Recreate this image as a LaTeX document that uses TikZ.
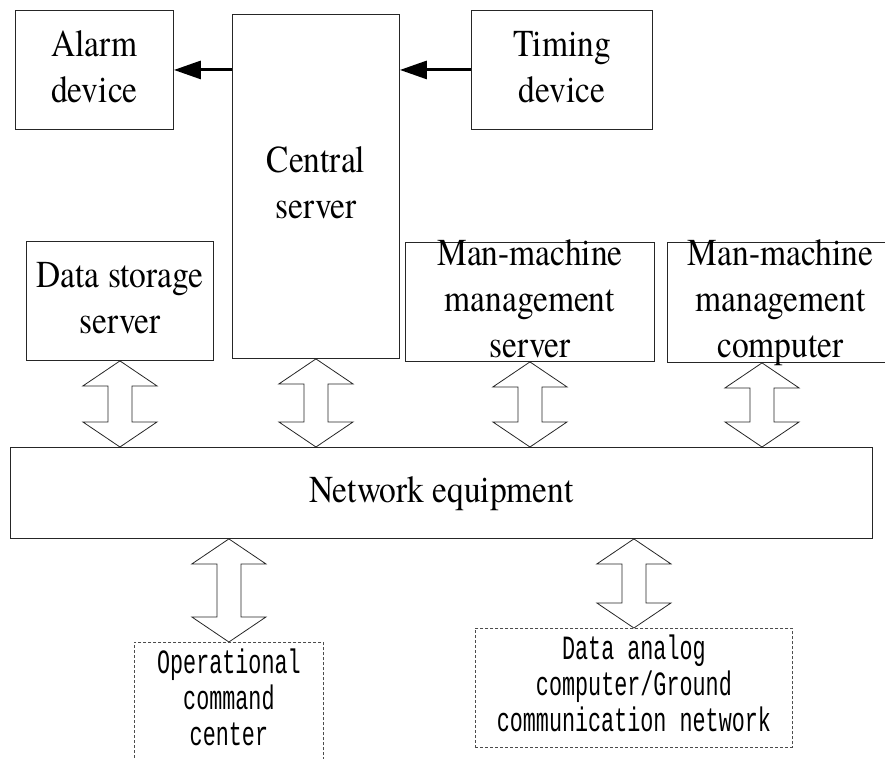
\documentclass[tikz,border=0pt]{standalone}
\usepackage{fontspec}
\newfontfamily\boxfont{TeX Gyre Termes}
\newfontfamily\codefont{Liberation Mono}
\usetikzlibrary{arrows.meta,calc}

% centred lines, squeezed horizontally
\newcommand\narrowlines[2]{\scalebox{#1}[1]{\begin{tabular}{@{}c@{}}#2\end{tabular}}}
\newcommand\serifbox[1]{\narrowlines{0.88}{#1}}
\newcommand\codebox[1]{\narrowlines{0.64}{#1}}

\tikzset{
  boxtext/.style={font={\boxfont\fontsize{38}{46}\selectfont}, inner sep=0pt},
  solidbox/.style={draw=black!85, line width=0.9pt, inner sep=0pt, anchor=north west,
    boxtext},
  dashbox/.style={draw=black!70, line width=0.8pt, dash pattern=on 3pt off 2pt,
    inner sep=0pt, anchor=north west,
    font={\codefont\fontsize{34}{36}\selectfont}},
  % thick one-way link with a solid triangular head
  thicklink/.style={line width=3pt, -{Triangle[length=27pt,width=18pt]}},
  % hollow two-headed block arrow between a box and the network bar
  dblarrow/.style={draw=black!85, line width=0.8pt, to path={
    let \p1=(\tikztostart), \p2=(\tikztotarget) in
    (\x1,\y1) -- (\x1+37pt,\y1-25pt) -- (\x1+12pt,\y1-25pt) -- (\x1+12pt,\y2+25pt)
    -- (\x1+37pt,\y2+25pt) -- (\x1,\y2) -- (\x1-37pt,\y2+25pt) -- (\x1-12pt,\y2+25pt)
    -- (\x1-12pt,\y1-25pt) -- (\x1-37pt,\y1-25pt) -- cycle}}
}

\begin{document}
\begin{tikzpicture}[x=1pt,y=-1pt]
\useasboundingbox (0,0) rectangle (885,758);
\clip (0,0) rectangle (885,758);

% upper row
\node[solidbox, minimum width=158pt, minimum height=119pt] (alarm) at (15,10) {\serifbox{Alarm\\device}};
\node[solidbox, minimum width=167pt, minimum height=344pt] (central) at (232,14) {\serifbox{Central\\server}};
\node[solidbox, minimum width=181pt, minimum height=119pt] (timing) at (471,10) {\serifbox{Timing\\device}};

% server row
\node[solidbox, minimum width=187pt, minimum height=119pt] (ds) at (26,241) {\serifbox{Data storage\\server}};
\node[solidbox, minimum width=249pt, minimum height=119pt] (mms) at (405,242) {};
\node[solidbox, minimum width=226pt, minimum height=120pt] (mmc) at (667,242) {};
\coordinate (mmcport) at ([xshift=95pt]mmc.south west);

% network bar
\node[solidbox, minimum width=862pt, minimum height=91pt] (net) at (10,447) {\serifbox{Network equipment}};

% external systems
\node[dashbox, minimum width=189pt, minimum height=119pt] (op) at (134,642) {\codebox{Operational\\command\\center}};
\node[dashbox, minimum width=317pt, minimum height=119pt] (da) at (475,628) {\codebox{Data analog\\computer/Ground\\communication network}};

% control links
\draw[thicklink] (central.west |- alarm.east) -- (alarm.east);
\draw[thicklink] (timing.west) -- (central.east |- timing.west);

% data links through the network bar
\draw[dblarrow] (ds.south) to (ds.south |- net.north);
\draw[dblarrow] (central.south) to (central.south |- net.north);
\draw[dblarrow] (mms.south) to (mms.south |- net.north);
\draw[dblarrow] (mmcport) to (mmcport |- net.north);
\draw[dblarrow] (op.north |- net.south) to (op.north);
\draw[dblarrow] (da.north |- net.south) to (da.north);

% labels of the management boxes
\node[boxtext] (mmslabel) at (mms.center) {\serifbox{Man-machine\\management\\server}};
\node[boxtext] (mmclabel) at (mmc.center) {\serifbox{Man-machine\\management\\computer}};
\end{tikzpicture}
\end{document}
